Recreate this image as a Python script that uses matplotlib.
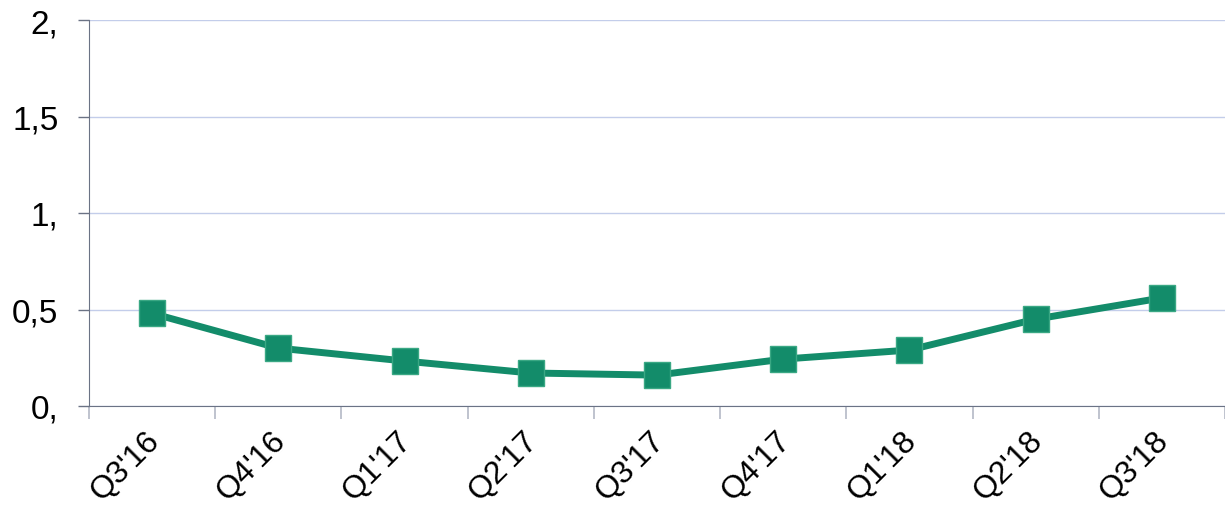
import matplotlib
matplotlib.use("Agg")
import matplotlib.pyplot as plt
import matplotlib.transforms as mtransforms
import numpy as np

quarters = ["Q3'16", "Q4'16", "Q1'17", "Q2'17", "Q3'17", "Q4'17", "Q1'18", "Q2'18", "Q3'18"]
values = [0.48, 0.30, 0.233, 0.171, 0.16, 0.243, 0.29, 0.45, 0.56]
y_ticks = [0, 0.5, 1, 1.5, 2]
y_labels = ["0,", "0,5", "1,", "1,5", "2,"]

plt.rcParams['font.family'] = ['Liberation Sans', 'DejaVu Sans']

fig = plt.figure(figsize=(12.25, 5.06), dpi=100)
ax = fig.add_axes([89/1225, 1 - 407/506, 1136/1225, 386/506])

x = np.arange(len(quarters))
ax.plot(x, values, color='#138c6a', linewidth=5, marker='s', markersize=19,
        markerfacecolor='#138c6a', markeredgecolor='#3aa884', markeredgewidth=1, zorder=3)

ax.set_xlim(-0.5, len(quarters) - 0.5)
ax.set_ylim(0, 2)

ax.set_yticks(y_ticks)
ax.set_yticklabels(y_labels, fontsize=24)
ax.tick_params(axis='y', length=8, width=1, color='#6b7385', pad=14)

# category labels at centres, tick marks at boundaries
ax.set_xticks(x)
ax.set_xticklabels(quarters, fontsize=23, rotation=45, ha='right', rotation_mode='anchor')
ax.tick_params(axis='x', which='major', length=0, pad=12)
ax.set_xticks(np.arange(-0.5, len(quarters)), minor=True)
ax.tick_params(axis='x', which='minor', length=9, width=1.2, color='#b4b9c6')
shift = mtransforms.ScaledTranslation(-8/100, -2/100, fig.dpi_scale_trans)
for lbl in ax.get_xticklabels():
    lbl.set_transform(lbl.get_transform() + shift)

ax.grid(axis='y', color='#c3cdea', linewidth=1)
ax.set_axisbelow(True)

for side in ['top', 'right']:
    ax.spines[side].set_visible(False)
ax.spines['left'].set_color('#6b7385')
ax.spines['bottom'].set_color('#6b7385')

plt.savefig("out.png", dpi=100)
